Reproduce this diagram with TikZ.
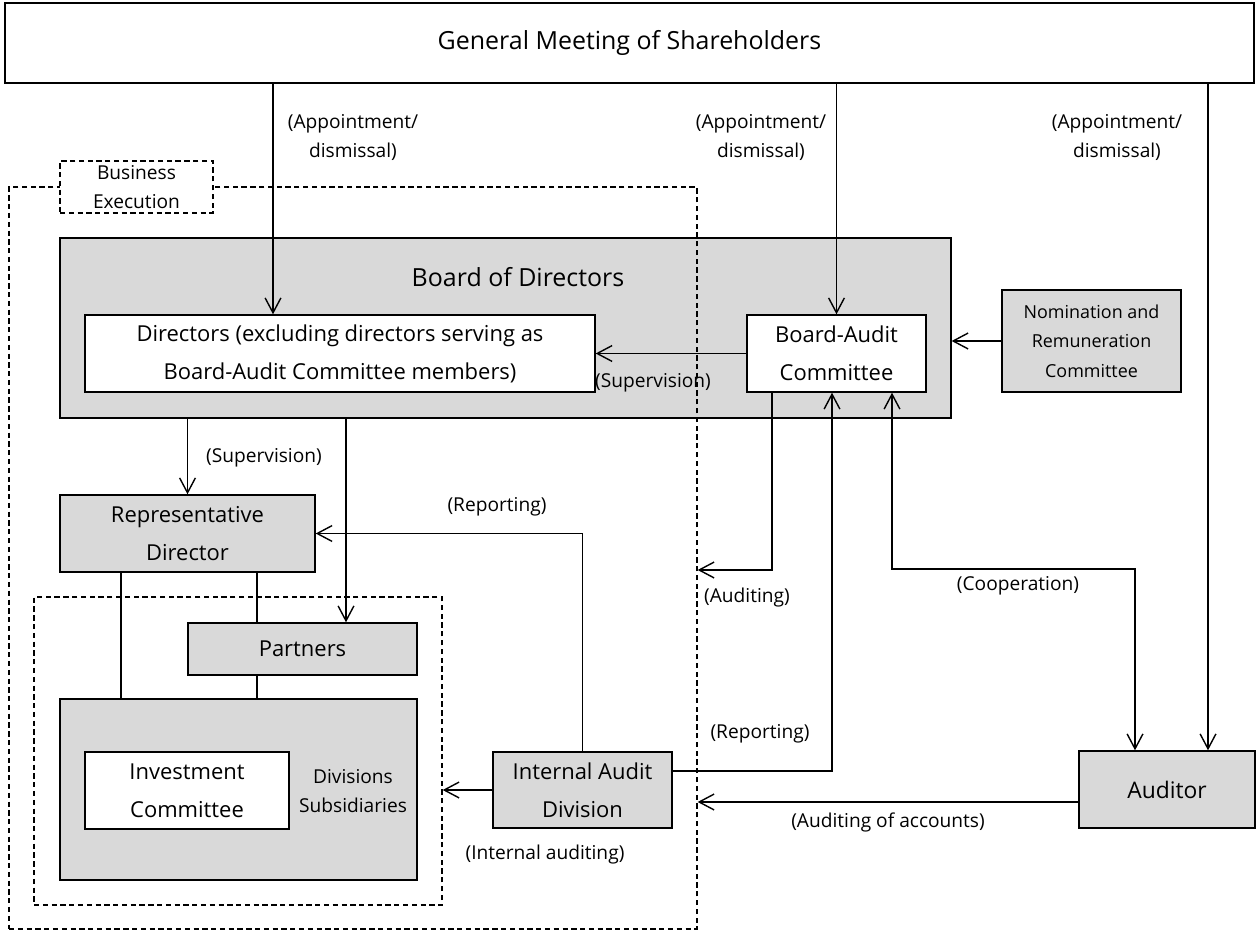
\documentclass[tikz,border=0pt]{standalone}
\usepackage{fontspec}
\setmainfont{Open Sans}
\usetikzlibrary{arrows.meta}
\definecolor{boxgray}{HTML}{D9D9D9}
\newcommand{\bigtxt}{\fontsize{14.2}{17}\selectfont}
\newcommand{\midtxt}{\fontsize{12.5}{21.6}\selectfont}
\newcommand{\smalltxt}{\fontsize{10.9}{16.5}\selectfont}
\newcommand{\nomtxt}{\fontsize{10.2}{16.8}\selectfont}

\begin{document}
\begin{tikzpicture}[x=0.02cm,y=-0.02cm,
  line width=0.8pt,>={Straight Barb[length=8.5pt,width=9pt]},
  gray box/.style={draw,fill=boxgray,inner sep=0pt,align=center,font=\midtxt},
  white box/.style={draw,fill=white,inner sep=0pt,align=center,font=\midtxt},
  note/.style={inner sep=0pt,align=center,font=\smalltxt},
  dash box/.style={draw,dash pattern=on 3pt off 2pt,inner sep=0pt}]

  \useasboundingbox (0,0) rectangle (1257,932);

  \node[white box,font=\bigtxt,minimum width=24.98cm,minimum height=1.6cm] (gm) at (629.5,43) {General Meeting of Shareholders};

  \node[gray box,minimum width=17.82cm,minimum height=3.6cm] (bod) at (505.5,328) {};
  \node[note,font=\bigtxt] (bodtitle) at (518,277) {Board of Directors};
  \node[white box,minimum width=10.2cm,minimum height=1.54cm] (dir) at (340,353.5) {Directors (excluding directors serving as\\Board-Audit Committee members)};
  \node[white box,minimum width=3.58cm,minimum height=1.54cm] (bac) at (836.5,353.5) {Board-Audit\\Committee};
  \node[gray box,font=\nomtxt,minimum width=3.58cm,minimum height=2.04cm] (nrc) at (1091.5,341) {Nomination and\\Remuneration\\Committee};

  % business execution area
  \node[dash box,minimum width=13.76cm,minimum height=14.84cm] (bexec) at (353,558) {};
  \node[note,dash box,fill=white,minimum width=3.06cm,minimum height=1.04cm] (bexeclabel) at (136.5,187) {Business\\Execution};

  \node[gray box,minimum width=5.1cm,minimum height=1.54cm] (rd) at (187.5,533.5) {Representative\\Director};
  \node[dash box,minimum width=8.16cm,minimum height=6.16cm] (grp) at (238,751) {};
  \node[gray box,minimum width=4.58cm,minimum height=1.04cm] (part) at (302.5,649) {Partners};
  \node[gray box,minimum width=7.14cm,minimum height=3.62cm] (div) at (238.5,789.5) {};
  \node[white box,minimum width=4.08cm,minimum height=1.54cm] (ic) at (187,790.5) {Investment\\Committee};
  \node[note] (divname) at (353,791) {Divisions\\Subsidiaries};
  \node[gray box,minimum width=3.58cm,minimum height=1.52cm] (iad) at (582.5,790) {Internal Audit\\Division};
  \node[gray box,font=\fontsize{13}{21.6}\selectfont,minimum width=3.52cm,minimum height=1.54cm] (aud) at (1167,789.5) {Auditor};

  % bends and columns
  \coordinate (c1) at (273,0);
  \coordinate (c3) at (1208,0);
  \coordinate (c4) at (346,0);
  \coordinate (c5) at (121,0);
  \coordinate (c6) at (257,0);
  \coordinate (c7) at (772,570);
  \coordinate (c8) at (832,771);
  \coordinate (c9) at (892,569);
  \coordinate (c10) at (1135,569);
  \coordinate (c11) at (0,802);

  \draw[->] (gm.south -| c1) -- (dir.north -| c1);
  \draw[->] (gm.south -| bac.north) -- (bac.north);
  \draw[->] (gm.south -| c3) -- (aud.north -| c3);
  \draw[->] (bac.west) -- (dir.east);
  \draw[->] (nrc.west) -- (nrc.west -| bod.east);
  \draw[->] (bod.south -| rd.north) -- (rd.north);
  \draw[->] (bod.south -| c4) -- (part.north -| c4);
  \draw (rd.south -| c5) -- (div.north -| c5);
  \draw (rd.south -| c6) -- (part.north -| c6);
  \draw (part.south -| c6) -- (div.north -| c6);
  \draw[->] (iad.north) |- (rd.east);
  \draw[->] (iad.west) -- (iad.west -| grp.east);
  \draw[->] (bac.south -| c7) -- (c7) -- (c7 -| bexec.east);
  \draw[->] (iad.east |- c8) -| (bac.south -| c8);
  \draw[<->] (bac.south -| c9) |- (c10) -- (aud.north -| c10);
  \draw[->] (aud.west |- c11) -- (c11 -| bexec.east);

  \node[note] (app1) at (353,137.5) {(Appointment/\\dismissal)};
  \node[note] (app2) at (761,137.5) {(Appointment/\\dismissal)};
  \node[note] (app3) at (1117,137.5) {(Appointment/\\dismissal)};
  \node[note] (sup1) at (653,383) {(Supervision)};
  \node[note] (sup2) at (264,458) {(Supervision)};
  \node[note] (rep1) at (497,507) {(Reporting)};
  \node[note] (audt) at (747,598) {(Auditing)};
  \node[note] (coop) at (1018,586) {(Cooperation)};
  \node[note] (rep2) at (760,734) {(Reporting)};
  \node[note] (intaud) at (545,855) {(Internal auditing)};
  \node[note] (accaud) at (888,822) {(Auditing of accounts)};
\end{tikzpicture}
\end{document}
